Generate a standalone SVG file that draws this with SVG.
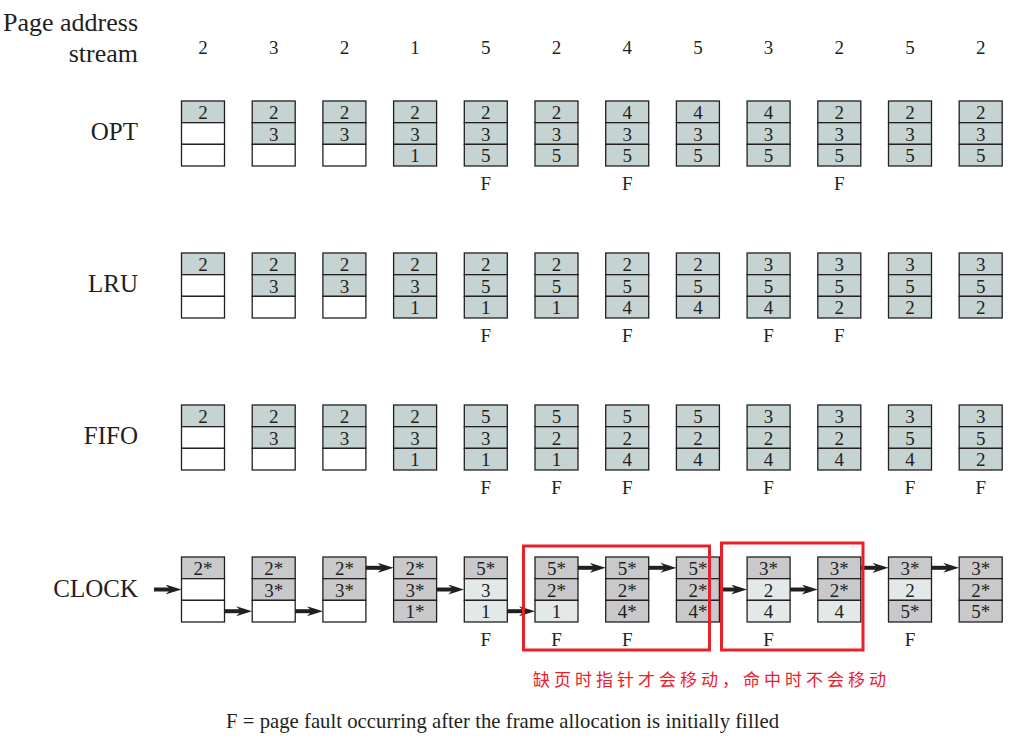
<svg xmlns="http://www.w3.org/2000/svg" width="1032" height="744" viewBox="0 0 1032 744">
<style>
rect.c{stroke:#231f20;stroke-width:1.3}
.t{fill:#c5d3d2}.w{fill:#ffffff}.g{fill:#c9c9cb}.l{fill:#e3e8e9}
text{font-family:"Liberation Serif","Times New Roman",serif;fill:#231f20}
.n{font-size:19px;text-anchor:middle}
.h{font-size:25px;text-anchor:end}
.s{font-size:19px;text-anchor:middle}
.fl{font-size:19px;text-anchor:middle}
.arr{stroke:#231f20;stroke-width:4;fill:none;marker-end:url(#ah)}
.red{fill:none;stroke:#e8202a;stroke-width:3}
</style>
<defs>
<marker id="ah" viewBox="0 0 16 10" refX="6" refY="5" markerWidth="16" markerHeight="10" markerUnits="userSpaceOnUse" orient="auto">
<path d="M0,0 L16,5 L0,10 L5,5 Z" fill="#231f20"/>
</marker>
</defs>
<rect width="1032" height="744" fill="#ffffff"/>
<g id="header">
<text class="h" x="138" y="31" style="font-size:26px">Page address</text>
<text class="h" x="138" y="62" style="font-size:26px">stream</text>
<text class="s" x="203" y="54">2</text><text class="s" x="273.7" y="54">3</text><text class="s" x="344.4" y="54">2</text><text class="s" x="415.1" y="54">1</text><text class="s" x="485.8" y="54">5</text><text class="s" x="556.5" y="54">2</text><text class="s" x="627.2" y="54">4</text><text class="s" x="697.9" y="54">5</text><text class="s" x="768.6" y="54">3</text><text class="s" x="839.3" y="54">2</text><text class="s" x="910" y="54">5</text><text class="s" x="980.7" y="54">2</text>
</g>
<g id="labels">
<text class="h" x="138" y="140">OPT</text>
<text class="h" x="138" y="292">LRU</text>
<text class="h" x="138" y="444">FIFO</text>
<text class="h" x="138" y="597">CLOCK</text>
</g>
<!-- OPT -->
<g id="opt-1" transform="translate(181.5,101)"><rect class="c t" width="43" height="21.67"/><rect class="c w" y="21.67" width="43" height="21.67"/><rect class="c w" y="43.33" width="43" height="21.67"/><text class="n" x="21.5" y="18">2</text></g>
<g id="opt-2" transform="translate(252.2,101)"><rect class="c t" width="43" height="21.67"/><rect class="c t" y="21.67" width="43" height="21.67"/><rect class="c w" y="43.33" width="43" height="21.67"/><text class="n" x="21.5" y="18">2</text><text class="n" x="21.5" y="39.7">3</text></g>
<g id="opt-3" transform="translate(322.9,101)"><rect class="c t" width="43" height="21.67"/><rect class="c t" y="21.67" width="43" height="21.67"/><rect class="c w" y="43.33" width="43" height="21.67"/><text class="n" x="21.5" y="18">2</text><text class="n" x="21.5" y="39.7">3</text></g>
<g id="opt-4" transform="translate(393.6,101)"><rect class="c t" width="43" height="21.67"/><rect class="c t" y="21.67" width="43" height="21.67"/><rect class="c t" y="43.33" width="43" height="21.67"/><text class="n" x="21.5" y="18">2</text><text class="n" x="21.5" y="39.7">3</text><text class="n" x="21.5" y="61.3">1</text></g>
<g id="opt-5" transform="translate(464.3,101)"><rect class="c t" width="43" height="21.67"/><rect class="c t" y="21.67" width="43" height="21.67"/><rect class="c t" y="43.33" width="43" height="21.67"/><text class="n" x="21.5" y="18">2</text><text class="n" x="21.5" y="39.7">3</text><text class="n" x="21.5" y="61.3">5</text><text class="fl" x="21.5" y="88.5">F</text></g>
<g id="opt-6" transform="translate(535,101)"><rect class="c t" width="43" height="21.67"/><rect class="c t" y="21.67" width="43" height="21.67"/><rect class="c t" y="43.33" width="43" height="21.67"/><text class="n" x="21.5" y="18">2</text><text class="n" x="21.5" y="39.7">3</text><text class="n" x="21.5" y="61.3">5</text></g>
<g id="opt-7" transform="translate(605.7,101)"><rect class="c t" width="43" height="21.67"/><rect class="c t" y="21.67" width="43" height="21.67"/><rect class="c t" y="43.33" width="43" height="21.67"/><text class="n" x="21.5" y="18">4</text><text class="n" x="21.5" y="39.7">3</text><text class="n" x="21.5" y="61.3">5</text><text class="fl" x="21.5" y="88.5">F</text></g>
<g id="opt-8" transform="translate(676.4,101)"><rect class="c t" width="43" height="21.67"/><rect class="c t" y="21.67" width="43" height="21.67"/><rect class="c t" y="43.33" width="43" height="21.67"/><text class="n" x="21.5" y="18">4</text><text class="n" x="21.5" y="39.7">3</text><text class="n" x="21.5" y="61.3">5</text></g>
<g id="opt-9" transform="translate(747.1,101)"><rect class="c t" width="43" height="21.67"/><rect class="c t" y="21.67" width="43" height="21.67"/><rect class="c t" y="43.33" width="43" height="21.67"/><text class="n" x="21.5" y="18">4</text><text class="n" x="21.5" y="39.7">3</text><text class="n" x="21.5" y="61.3">5</text></g>
<g id="opt-10" transform="translate(817.8,101)"><rect class="c t" width="43" height="21.67"/><rect class="c t" y="21.67" width="43" height="21.67"/><rect class="c t" y="43.33" width="43" height="21.67"/><text class="n" x="21.5" y="18">2</text><text class="n" x="21.5" y="39.7">3</text><text class="n" x="21.5" y="61.3">5</text><text class="fl" x="21.5" y="88.5">F</text></g>
<g id="opt-11" transform="translate(888.5,101)"><rect class="c t" width="43" height="21.67"/><rect class="c t" y="21.67" width="43" height="21.67"/><rect class="c t" y="43.33" width="43" height="21.67"/><text class="n" x="21.5" y="18">2</text><text class="n" x="21.5" y="39.7">3</text><text class="n" x="21.5" y="61.3">5</text></g>
<g id="opt-12" transform="translate(959.2,101)"><rect class="c t" width="43" height="21.67"/><rect class="c t" y="21.67" width="43" height="21.67"/><rect class="c t" y="43.33" width="43" height="21.67"/><text class="n" x="21.5" y="18">2</text><text class="n" x="21.5" y="39.7">3</text><text class="n" x="21.5" y="61.3">5</text></g>
<!-- LRU -->
<g id="lru-1" transform="translate(181.5,253)"><rect class="c t" width="43" height="21.67"/><rect class="c w" y="21.67" width="43" height="21.67"/><rect class="c w" y="43.33" width="43" height="21.67"/><text class="n" x="21.5" y="18">2</text></g>
<g id="lru-2" transform="translate(252.2,253)"><rect class="c t" width="43" height="21.67"/><rect class="c t" y="21.67" width="43" height="21.67"/><rect class="c w" y="43.33" width="43" height="21.67"/><text class="n" x="21.5" y="18">2</text><text class="n" x="21.5" y="39.7">3</text></g>
<g id="lru-3" transform="translate(322.9,253)"><rect class="c t" width="43" height="21.67"/><rect class="c t" y="21.67" width="43" height="21.67"/><rect class="c w" y="43.33" width="43" height="21.67"/><text class="n" x="21.5" y="18">2</text><text class="n" x="21.5" y="39.7">3</text></g>
<g id="lru-4" transform="translate(393.6,253)"><rect class="c t" width="43" height="21.67"/><rect class="c t" y="21.67" width="43" height="21.67"/><rect class="c t" y="43.33" width="43" height="21.67"/><text class="n" x="21.5" y="18">2</text><text class="n" x="21.5" y="39.7">3</text><text class="n" x="21.5" y="61.3">1</text></g>
<g id="lru-5" transform="translate(464.3,253)"><rect class="c t" width="43" height="21.67"/><rect class="c t" y="21.67" width="43" height="21.67"/><rect class="c t" y="43.33" width="43" height="21.67"/><text class="n" x="21.5" y="18">2</text><text class="n" x="21.5" y="39.7">5</text><text class="n" x="21.5" y="61.3">1</text><text class="fl" x="21.5" y="88.5">F</text></g>
<g id="lru-6" transform="translate(535,253)"><rect class="c t" width="43" height="21.67"/><rect class="c t" y="21.67" width="43" height="21.67"/><rect class="c t" y="43.33" width="43" height="21.67"/><text class="n" x="21.5" y="18">2</text><text class="n" x="21.5" y="39.7">5</text><text class="n" x="21.5" y="61.3">1</text></g>
<g id="lru-7" transform="translate(605.7,253)"><rect class="c t" width="43" height="21.67"/><rect class="c t" y="21.67" width="43" height="21.67"/><rect class="c t" y="43.33" width="43" height="21.67"/><text class="n" x="21.5" y="18">2</text><text class="n" x="21.5" y="39.7">5</text><text class="n" x="21.5" y="61.3">4</text><text class="fl" x="21.5" y="88.5">F</text></g>
<g id="lru-8" transform="translate(676.4,253)"><rect class="c t" width="43" height="21.67"/><rect class="c t" y="21.67" width="43" height="21.67"/><rect class="c t" y="43.33" width="43" height="21.67"/><text class="n" x="21.5" y="18">2</text><text class="n" x="21.5" y="39.7">5</text><text class="n" x="21.5" y="61.3">4</text></g>
<g id="lru-9" transform="translate(747.1,253)"><rect class="c t" width="43" height="21.67"/><rect class="c t" y="21.67" width="43" height="21.67"/><rect class="c t" y="43.33" width="43" height="21.67"/><text class="n" x="21.5" y="18">3</text><text class="n" x="21.5" y="39.7">5</text><text class="n" x="21.5" y="61.3">4</text><text class="fl" x="21.5" y="88.5">F</text></g>
<g id="lru-10" transform="translate(817.8,253)"><rect class="c t" width="43" height="21.67"/><rect class="c t" y="21.67" width="43" height="21.67"/><rect class="c t" y="43.33" width="43" height="21.67"/><text class="n" x="21.5" y="18">3</text><text class="n" x="21.5" y="39.7">5</text><text class="n" x="21.5" y="61.3">2</text><text class="fl" x="21.5" y="88.5">F</text></g>
<g id="lru-11" transform="translate(888.5,253)"><rect class="c t" width="43" height="21.67"/><rect class="c t" y="21.67" width="43" height="21.67"/><rect class="c t" y="43.33" width="43" height="21.67"/><text class="n" x="21.5" y="18">3</text><text class="n" x="21.5" y="39.7">5</text><text class="n" x="21.5" y="61.3">2</text></g>
<g id="lru-12" transform="translate(959.2,253)"><rect class="c t" width="43" height="21.67"/><rect class="c t" y="21.67" width="43" height="21.67"/><rect class="c t" y="43.33" width="43" height="21.67"/><text class="n" x="21.5" y="18">3</text><text class="n" x="21.5" y="39.7">5</text><text class="n" x="21.5" y="61.3">2</text></g>
<!-- FIFO -->
<g id="fifo-1" transform="translate(181.5,405)"><rect class="c t" width="43" height="21.67"/><rect class="c w" y="21.67" width="43" height="21.67"/><rect class="c w" y="43.33" width="43" height="21.67"/><text class="n" x="21.5" y="18">2</text></g>
<g id="fifo-2" transform="translate(252.2,405)"><rect class="c t" width="43" height="21.67"/><rect class="c t" y="21.67" width="43" height="21.67"/><rect class="c w" y="43.33" width="43" height="21.67"/><text class="n" x="21.5" y="18">2</text><text class="n" x="21.5" y="39.7">3</text></g>
<g id="fifo-3" transform="translate(322.9,405)"><rect class="c t" width="43" height="21.67"/><rect class="c t" y="21.67" width="43" height="21.67"/><rect class="c w" y="43.33" width="43" height="21.67"/><text class="n" x="21.5" y="18">2</text><text class="n" x="21.5" y="39.7">3</text></g>
<g id="fifo-4" transform="translate(393.6,405)"><rect class="c t" width="43" height="21.67"/><rect class="c t" y="21.67" width="43" height="21.67"/><rect class="c t" y="43.33" width="43" height="21.67"/><text class="n" x="21.5" y="18">2</text><text class="n" x="21.5" y="39.7">3</text><text class="n" x="21.5" y="61.3">1</text></g>
<g id="fifo-5" transform="translate(464.3,405)"><rect class="c t" width="43" height="21.67"/><rect class="c t" y="21.67" width="43" height="21.67"/><rect class="c t" y="43.33" width="43" height="21.67"/><text class="n" x="21.5" y="18">5</text><text class="n" x="21.5" y="39.7">3</text><text class="n" x="21.5" y="61.3">1</text><text class="fl" x="21.5" y="88.5">F</text></g>
<g id="fifo-6" transform="translate(535,405)"><rect class="c t" width="43" height="21.67"/><rect class="c t" y="21.67" width="43" height="21.67"/><rect class="c t" y="43.33" width="43" height="21.67"/><text class="n" x="21.5" y="18">5</text><text class="n" x="21.5" y="39.7">2</text><text class="n" x="21.5" y="61.3">1</text><text class="fl" x="21.5" y="88.5">F</text></g>
<g id="fifo-7" transform="translate(605.7,405)"><rect class="c t" width="43" height="21.67"/><rect class="c t" y="21.67" width="43" height="21.67"/><rect class="c t" y="43.33" width="43" height="21.67"/><text class="n" x="21.5" y="18">5</text><text class="n" x="21.5" y="39.7">2</text><text class="n" x="21.5" y="61.3">4</text><text class="fl" x="21.5" y="88.5">F</text></g>
<g id="fifo-8" transform="translate(676.4,405)"><rect class="c t" width="43" height="21.67"/><rect class="c t" y="21.67" width="43" height="21.67"/><rect class="c t" y="43.33" width="43" height="21.67"/><text class="n" x="21.5" y="18">5</text><text class="n" x="21.5" y="39.7">2</text><text class="n" x="21.5" y="61.3">4</text></g>
<g id="fifo-9" transform="translate(747.1,405)"><rect class="c t" width="43" height="21.67"/><rect class="c t" y="21.67" width="43" height="21.67"/><rect class="c t" y="43.33" width="43" height="21.67"/><text class="n" x="21.5" y="18">3</text><text class="n" x="21.5" y="39.7">2</text><text class="n" x="21.5" y="61.3">4</text><text class="fl" x="21.5" y="88.5">F</text></g>
<g id="fifo-10" transform="translate(817.8,405)"><rect class="c t" width="43" height="21.67"/><rect class="c t" y="21.67" width="43" height="21.67"/><rect class="c t" y="43.33" width="43" height="21.67"/><text class="n" x="21.5" y="18">3</text><text class="n" x="21.5" y="39.7">2</text><text class="n" x="21.5" y="61.3">4</text></g>
<g id="fifo-11" transform="translate(888.5,405)"><rect class="c t" width="43" height="21.67"/><rect class="c t" y="21.67" width="43" height="21.67"/><rect class="c t" y="43.33" width="43" height="21.67"/><text class="n" x="21.5" y="18">3</text><text class="n" x="21.5" y="39.7">5</text><text class="n" x="21.5" y="61.3">4</text><text class="fl" x="21.5" y="88.5">F</text></g>
<g id="fifo-12" transform="translate(959.2,405)"><rect class="c t" width="43" height="21.67"/><rect class="c t" y="21.67" width="43" height="21.67"/><rect class="c t" y="43.33" width="43" height="21.67"/><text class="n" x="21.5" y="18">3</text><text class="n" x="21.5" y="39.7">5</text><text class="n" x="21.5" y="61.3">2</text><text class="fl" x="21.5" y="88.5">F</text></g>
<!-- CLOCK -->
<g id="clock-1" transform="translate(181.5,557)"><rect class="c g" width="43" height="21.67"/><rect class="c w" y="21.67" width="43" height="21.67"/><rect class="c w" y="43.33" width="43" height="21.67"/><text class="n" x="21.5" y="18">2*</text></g>
<g id="clock-2" transform="translate(252.2,557)"><rect class="c g" width="43" height="21.67"/><rect class="c g" y="21.67" width="43" height="21.67"/><rect class="c w" y="43.33" width="43" height="21.67"/><text class="n" x="21.5" y="18">2*</text><text class="n" x="21.5" y="39.7">3*</text></g>
<g id="clock-3" transform="translate(322.9,557)"><rect class="c g" width="43" height="21.67"/><rect class="c g" y="21.67" width="43" height="21.67"/><rect class="c w" y="43.33" width="43" height="21.67"/><text class="n" x="21.5" y="18">2*</text><text class="n" x="21.5" y="39.7">3*</text></g>
<g id="clock-4" transform="translate(393.6,557)"><rect class="c g" width="43" height="21.67"/><rect class="c g" y="21.67" width="43" height="21.67"/><rect class="c g" y="43.33" width="43" height="21.67"/><text class="n" x="21.5" y="18">2*</text><text class="n" x="21.5" y="39.7">3*</text><text class="n" x="21.5" y="61.3">1*</text></g>
<g id="clock-5" transform="translate(464.3,557)"><rect class="c g" width="43" height="21.67"/><rect class="c l" y="21.67" width="43" height="21.67"/><rect class="c l" y="43.33" width="43" height="21.67"/><text class="n" x="21.5" y="18">5*</text><text class="n" x="21.5" y="39.7">3</text><text class="n" x="21.5" y="61.3">1</text><text class="fl" x="21.5" y="88.5">F</text></g>
<g id="clock-6" transform="translate(535,557)"><rect class="c g" width="43" height="21.67"/><rect class="c g" y="21.67" width="43" height="21.67"/><rect class="c l" y="43.33" width="43" height="21.67"/><text class="n" x="21.5" y="18">5*</text><text class="n" x="21.5" y="39.7">2*</text><text class="n" x="21.5" y="61.3">1</text><text class="fl" x="21.5" y="88.5">F</text></g>
<g id="clock-7" transform="translate(605.7,557)"><rect class="c g" width="43" height="21.67"/><rect class="c g" y="21.67" width="43" height="21.67"/><rect class="c g" y="43.33" width="43" height="21.67"/><text class="n" x="21.5" y="18">5*</text><text class="n" x="21.5" y="39.7">2*</text><text class="n" x="21.5" y="61.3">4*</text><text class="fl" x="21.5" y="88.5">F</text></g>
<g id="clock-8" transform="translate(676.4,557)"><rect class="c g" width="43" height="21.67"/><rect class="c g" y="21.67" width="43" height="21.67"/><rect class="c g" y="43.33" width="43" height="21.67"/><text class="n" x="21.5" y="18">5*</text><text class="n" x="21.5" y="39.7">2*</text><text class="n" x="21.5" y="61.3">4*</text></g>
<g id="clock-9" transform="translate(747.1,557)"><rect class="c g" width="43" height="21.67"/><rect class="c l" y="21.67" width="43" height="21.67"/><rect class="c l" y="43.33" width="43" height="21.67"/><text class="n" x="21.5" y="18">3*</text><text class="n" x="21.5" y="39.7">2</text><text class="n" x="21.5" y="61.3">4</text><text class="fl" x="21.5" y="88.5">F</text></g>
<g id="clock-10" transform="translate(817.8,557)"><rect class="c g" width="43" height="21.67"/><rect class="c g" y="21.67" width="43" height="21.67"/><rect class="c l" y="43.33" width="43" height="21.67"/><text class="n" x="21.5" y="18">3*</text><text class="n" x="21.5" y="39.7">2*</text><text class="n" x="21.5" y="61.3">4</text></g>
<g id="clock-11" transform="translate(888.5,557)"><rect class="c g" width="43" height="21.67"/><rect class="c l" y="21.67" width="43" height="21.67"/><rect class="c g" y="43.33" width="43" height="21.67"/><text class="n" x="21.5" y="18">3*</text><text class="n" x="21.5" y="39.7">2</text><text class="n" x="21.5" y="61.3">5*</text><text class="fl" x="21.5" y="88.5">F</text></g>
<g id="clock-12" transform="translate(959.2,557)"><rect class="c g" width="43" height="21.67"/><rect class="c g" y="21.67" width="43" height="21.67"/><rect class="c g" y="43.33" width="43" height="21.67"/><text class="n" x="21.5" y="18">3*</text><text class="n" x="21.5" y="39.7">2*</text><text class="n" x="21.5" y="61.3">5*</text></g>
<g id="connectors">
<line class="arr" x1="154" y1="589.5" x2="171.5" y2="589.5"/>
<line class="arr" x1="224.5" y1="611.2" x2="242.2" y2="611.2"/>
<line class="arr" x1="295.2" y1="611.2" x2="312.9" y2="611.2"/>
<line class="arr" x1="365.9" y1="567.8" x2="383.6" y2="567.8"/>
<line class="arr" x1="436.6" y1="589.5" x2="454.3" y2="589.5"/>
<line class="arr" x1="507.3" y1="611.2" x2="525" y2="611.2"/>
<line class="arr" x1="578" y1="567.8" x2="595.7" y2="567.8"/>
<line class="arr" x1="648.7" y1="567.8" x2="666.4" y2="567.8"/>
<line class="arr" x1="719.4" y1="589.5" x2="737.1" y2="589.5"/>
<line class="arr" x1="790.1" y1="589.5" x2="807.8" y2="589.5"/>
<line class="arr" x1="860.8" y1="567.8" x2="878.5" y2="567.8"/>
<line class="arr" x1="931.5" y1="567.8" x2="949.2" y2="567.8"/>
</g>
<g id="highlights">
<rect class="red" x="523.5" y="546" width="186" height="104"/>
<rect class="red" x="721.5" y="543" width="141.5" height="107"/>
<text x="533" y="686" style="font-family:'Noto Sans CJK SC',sans-serif;font-size:17px;letter-spacing:4px;fill:#e8202a">缺页时指针才会移动，命中时不会移动</text>
</g>
<text x="226" y="728" style="font-size:20.7px" textLength="553" lengthAdjust="spacing">F = page fault occurring after the frame allocation is initially filled</text>
</svg>
